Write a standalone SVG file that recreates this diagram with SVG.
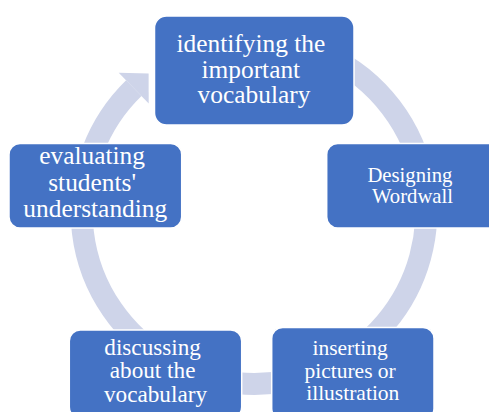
<svg xmlns="http://www.w3.org/2000/svg" width="489" height="412" viewBox="0 0 489 412">
  <style>
    .box { fill: #4472C4; stroke: #FFFFFF; stroke-width: 1.5; }
    .label { fill: #FFFFFF; font-family: "Liberation Serif", "Times New Roman", serif; text-anchor: middle; }
    .ring { fill: none; stroke: #CED4E9; stroke-width: 22; }
    .head { fill: #CED4E9; }
  </style>
  <rect width="489" height="412" fill="#FFFFFF"/>

  <!-- circular cycle arrow running clockwise behind the steps -->
  <g id="connectors">
    <path class="ring" d="M254,39.4 A172.3,172.3 0 1 1 133.8,88.2"/>
    <polygon class="head" points="118.7,72.7 148.6,73.6 148.7,103.5"/>
  </g>

  <g id="step-identify">
    <rect class="box" x="154.5" y="16" width="199.5" height="109" rx="12"/>
    <text class="label" font-size="25.4">
      <tspan x="254" y="51.7">identifying the</tspan>
      <tspan x="254" y="77.7">important</tspan>
      <tspan x="254" y="102.7">vocabulary</tspan>
    </text>
  </g>

  <g id="step-design">
    <rect class="box" x="326.7" y="143.5" width="172" height="84.5" rx="11"/>
    <text class="label" font-size="20.7">
      <tspan x="412.5" y="181.7">Designing</tspan>
      <tspan x="412.5" y="203.3">Wordwall</tspan>
    </text>
  </g>

  <g id="step-insert">
    <rect class="box" x="271.7" y="327.5" width="162.3" height="92" rx="11"/>
    <text class="label" font-size="21.5">
      <tspan x="352.8" y="355">inserting</tspan>
      <tspan x="352.8" y="378.3">pictures or</tspan>
      <tspan x="352.8" y="400">illustration</tspan>
    </text>
  </g>

  <g id="step-discuss">
    <rect class="box" x="69.3" y="330" width="172.4" height="88" rx="11"/>
    <text class="label" font-size="23.2">
      <tspan x="155.5" y="355">discussing</tspan>
      <tspan x="155.5" y="378.3">about the</tspan>
      <tspan x="155.5" y="401.7">vocabulary</tspan>
    </text>
  </g>

  <g id="step-evaluate">
    <rect class="box" x="9" y="143.5" width="172.7" height="84.5" rx="11"/>
    <text class="label" font-size="25.4">
      <tspan x="95.3" y="164.3">evaluating</tspan>
      <tspan x="95.3" y="191">students'</tspan>
      <tspan x="95.3" y="216.7">understanding</tspan>
    </text>
  </g>
</svg>
